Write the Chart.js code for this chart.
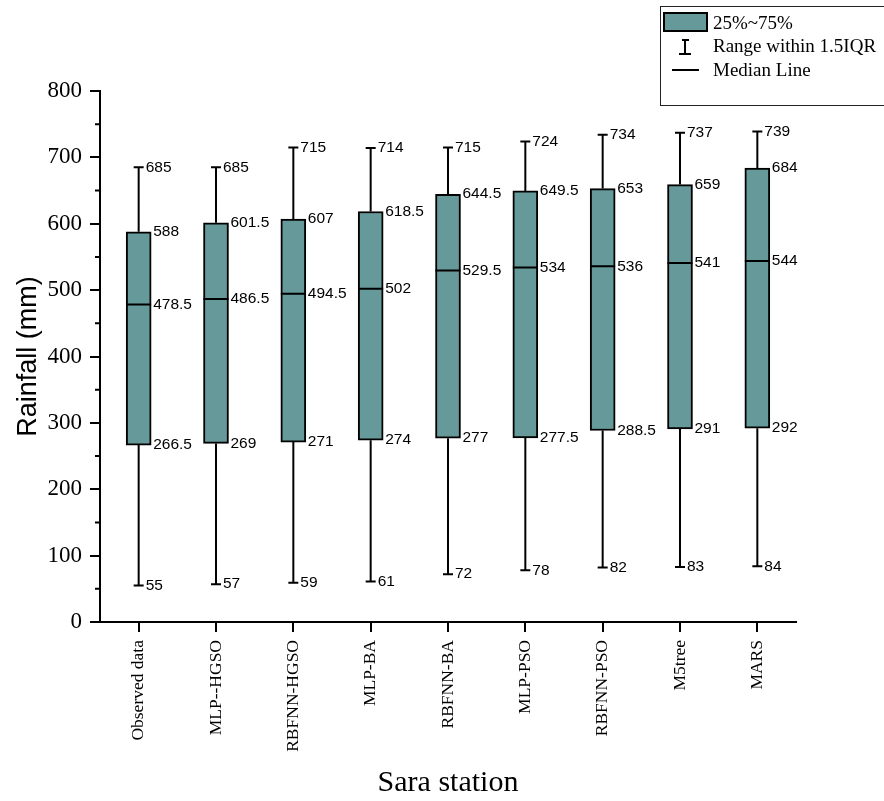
<!DOCTYPE html>
<html>
<head>
<meta charset="utf-8">
<script src="https://cdn.jsdelivr.net/npm/chart.js@4.4.0/dist/chart.umd.min.js"></script>
<style>
body{margin:0;background:#fff;}
#wrap{position:relative;width:884px;height:801px;overflow:hidden;}
#legend{position:absolute;left:660px;top:6px;width:240px;height:98px;border:1px solid #222;font-family:"Liberation Serif";font-size:19px;color:#000;}
#legend .t{position:absolute;left:52px;line-height:20px;white-space:nowrap;}
#legend .s{position:absolute;background:#000;}
</style>
</head>
<body>
<div id="wrap">
  <canvas id="chart" width="884" height="801"></canvas>
  <div id="legend">
    <div class="s" style="left:2px;top:5px;width:45px;height:20px;box-sizing:border-box;border:2px solid #000;background:#669999;"></div>
    <div class="t" style="top:6px;">25%~75%</div>
    <div class="s" style="left:21px;top:32px;width:7px;height:2px;"></div>
    <div class="s" style="left:23px;top:32px;width:2px;height:16px;"></div>
    <div class="s" style="left:18px;top:46px;width:12px;height:2px;"></div>
    <div class="t" style="top:29px;">Range within 1.5IQR</div>
    <div class="s" style="left:11px;top:62px;width:27px;height:2px;"></div>
    <div class="t" style="top:53px;">Median Line</div>
  </div>
</div>
<script>
const categories = ['Observed data', 'MLP--HGSO', 'RBFNN-HGSO', 'MLP-BA', 'RBFNN-BA', 'MLP-PSO', 'RBFNN-PSO', 'M5tree', 'MARS'];
const minValues = [55, 57, 59, 61, 72, 78, 82, 83, 84];
const q1Values = [266.5, 269, 271, 274, 277, 277.5, 288.5, 291, 292];
const medianValues = [478.5, 486.5, 494.5, 502, 529.5, 534, 536, 541, 544];
const q3Values = [588, 601.5, 607, 618.5, 644.5, 649.5, 653, 659, 684];
const maxValues = [685, 685, 715, 714, 715, 724, 734, 737, 739];
const yTicks = [0, 100, 200, 300, 400, 500, 600, 700, 800];

const boxColor = '#669999';

// whiskers, medians, value labels and minor ticks
const boxExtras = {
    id: 'boxExtras',
    afterDatasetsDraw(chart) {
        let ctx = chart.ctx;
        let xs = chart.scales.x, ys = chart.scales.y;
        let bars = chart.getDatasetMeta(0).data;
        ctx.save();
        ctx.strokeStyle = '#000';
        ctx.lineWidth = 2;
        ctx.fillStyle = '#000';
        ctx.font = '15.5px "Liberation Sans"';
        ctx.textBaseline = 'middle';
        categories.forEach((c, i) => {
            let cx = xs.getPixelForValue(i);
            let half = bars[i].width / 2;
            let yMin = ys.getPixelForValue(minValues[i]);
            let yQ1 = ys.getPixelForValue(q1Values[i]);
            let yMed = ys.getPixelForValue(medianValues[i]);
            let yQ3 = ys.getPixelForValue(q3Values[i]);
            let yMax = ys.getPixelForValue(maxValues[i]);
            ctx.beginPath();
            ctx.moveTo(cx, yQ3); ctx.lineTo(cx, yMax);
            ctx.moveTo(cx, yQ1); ctx.lineTo(cx, yMin);
            ctx.moveTo(cx - 5, yMax); ctx.lineTo(cx + 5, yMax);
            ctx.moveTo(cx - 5, yMin); ctx.lineTo(cx + 5, yMin);
            ctx.moveTo(cx - half, yMed); ctx.lineTo(cx + half, yMed);
            ctx.stroke();
            ctx.fillText(String(maxValues[i]), cx + 7, yMax);
            ctx.fillText(String(minValues[i]), cx + 7, yMin);
            ctx.fillText(String(q3Values[i]), cx + half + 2, yQ3);
            ctx.fillText(String(medianValues[i]), cx + half + 2, yMed);
            ctx.fillText(String(q1Values[i]), cx + half + 2, yQ1);
        });
        // minor ticks halfway between the major ones
        ctx.beginPath();
        for (let k = 0; k < yTicks.length - 1; k++) {
            let yy = ys.getPixelForValue((yTicks[k] + yTicks[k + 1]) / 2);
            ctx.moveTo(ys.right - 5, yy);
            ctx.lineTo(ys.right, yy);
        }
        ctx.stroke();
        ctx.restore();
    }
};

let ctx = document.getElementById('chart').getContext('2d');
let chart = new Chart(ctx, {
    type: 'bar',
    data: {
        labels: categories,
        datasets: [{
            label: '25%~75%',
            data: q1Values.map((q, i) => [q, q3Values[i]]),
            backgroundColor: boxColor,
            borderColor: '#000',
            borderWidth: 2,
            borderSkipped: false,
            barThickness: 25
        }]
    },
    options: {
        responsive: false,
        animation: false,
        layout: { padding: { top: 91, right: 88, left: 0, bottom: 0 } },
        plugins: { legend: { display: false }, tooltip: { enabled: false } },
        scales: {
            x: {
                grid: { offset: false, drawOnChartArea: false, color: '#000', lineWidth: 2, tickLength: 10 },
                border: { color: '#000', width: 2 },
                ticks: { color: '#000', font: { family: 'Liberation Serif', size: 17.5 }, minRotation: 90, maxRotation: 90, padding: 8 },
                title: { display: true, text: 'Sara station', color: '#000', font: { family: 'Liberation Serif', size: 30 }, padding: { top: 0, bottom: 0 } },
                afterFit(s) { s.height = 179; s.paddingLeft = 0; s.paddingRight = 0; }
            },
            y: {
                min: 0,
                max: 800,
                afterBuildTicks(s) { s.ticks = yTicks.map(v => ({ value: v })); },
                grid: { drawOnChartArea: false, color: '#000', lineWidth: 2, tickLength: 10 },
                border: { color: '#000', width: 2 },
                ticks: { color: '#000', font: { family: 'Liberation Serif', size: 23 }, padding: 8 },
                title: { display: true, text: 'Rainfall (mm)', color: '#000', font: { family: 'Liberation Sans', size: 27 }, padding: { top: 12, bottom: 0 } },
                afterFit(s) { s.width = 100; s.paddingTop = 0; s.paddingBottom = 0; }
            }
        }
    },
    plugins: [boxExtras]
});
</script>
</body>
</html>
